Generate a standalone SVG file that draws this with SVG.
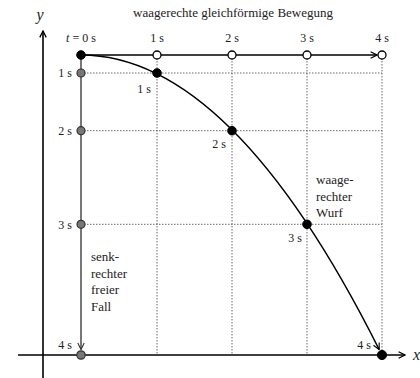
<svg xmlns="http://www.w3.org/2000/svg" width="420" height="378" viewBox="0 0 420 378">
<style>
text{font-family:"Liberation Serif","DejaVu Serif",serif;font-size:13px;fill:#222}
.lbl{font-size:12px}
.grid{stroke:#444;stroke-width:0.8;stroke-dasharray:1.5,1.5;fill:none}
.axis{stroke:#000;stroke-width:1.6;fill:none}
.blk{stroke:#000;stroke-width:1.4;fill:none}
.gry{stroke:#555;stroke-width:1.6;fill:none}
.pb{fill:#000;stroke:#000;stroke-width:1}
.pw{fill:#fff;stroke:#000;stroke-width:1.3}
.pg{fill:#777;stroke:#333;stroke-width:1.2}
</style>
<defs>
<marker id="ah" viewBox="0 0 10 10" refX="9" refY="5" markerWidth="8" markerHeight="8" markerUnits="userSpaceOnUse" orient="auto">
<path d="M1,1 L9,5 L1,9" fill="none" stroke="#000" stroke-width="1.6"/>
</marker>
<marker id="ahs" viewBox="0 0 10 10" refX="9" refY="5" markerWidth="8" markerHeight="8" markerUnits="userSpaceOnUse" orient="auto">
<path d="M1,1 L9,5 L1,9" fill="none" stroke="#000" stroke-width="1.4"/>
</marker>
<marker id="ahg" viewBox="0 0 10 10" refX="9" refY="5" markerWidth="8" markerHeight="8" markerUnits="userSpaceOnUse" orient="auto">
<path d="M1,1 L9,5 L1,9" fill="none" stroke="#333" stroke-width="1.4"/>
</marker>
</defs>
<g id="grid">
<path class="grid" d="M81,73 H382 M81,130.7 H382 M81,224.3 H382 M157,55 V355 M232,55 V355 M307,55 V355 M382,55 V355"/>
</g>
<g id="axes">
<path class="axis" d="M43,383 V31" marker-end="url(#ah)"/>
<path class="axis" d="M18,355 H405" marker-end="url(#ah)"/>
<text x="40" y="20" style="font-style:italic;font-size:16px" text-anchor="middle">y</text>
<text x="413" y="360" style="font-style:italic;font-size:16px">x</text>
</g>
<g id="connectors">
<path class="blk" d="M81,55 H377" marker-end="url(#ahs)"/>
<path class="gry" d="M81,55 V349.5" marker-end="url(#ahg)"/>
<path class="blk" d="M81,55 Q231.5,55 379.2,349.6" marker-end="url(#ahs)"/>
</g>
<g id="horizontal-points">
<circle class="pw" cx="157" cy="55" r="4"/>
<circle class="pw" cx="232" cy="55" r="4"/>
<circle class="pw" cx="307" cy="55" r="4"/>
<circle class="pw" cx="382" cy="55" r="4"/>
</g>
<g id="vertical-points">
<circle class="pg" cx="81" cy="73" r="4"/>
<circle class="pg" cx="81" cy="130.7" r="4"/>
<circle class="pg" cx="81" cy="224.3" r="4"/>
<circle class="pg" cx="81" cy="355" r="4.2"/>
</g>
<g id="throw-points">
<circle class="pb" cx="81" cy="55" r="4.3"/>
<circle class="pb" cx="157" cy="73" r="4.3"/>
<circle class="pb" cx="232" cy="130.7" r="4.3"/>
<circle class="pb" cx="307" cy="224.3" r="4.3"/>
<circle class="pb" cx="382" cy="355" r="4.6"/>
</g>
<g id="labels">
<text x="233" y="17" text-anchor="middle">waagerechte gleichförmige Bewegung</text>
<text x="81" y="42" text-anchor="middle" class="lbl"><tspan font-style="italic">t</tspan> = 0 s</text>
<text x="157" y="42" text-anchor="middle" class="lbl">1 s</text>
<text x="232" y="42" text-anchor="middle" class="lbl">2 s</text>
<text x="307" y="42" text-anchor="middle" class="lbl">3 s</text>
<text x="382" y="42" text-anchor="middle" class="lbl">4 s</text>
<text x="72" y="77" text-anchor="end" class="lbl">1 s</text>
<text x="72" y="135" text-anchor="end" class="lbl">2 s</text>
<text x="72" y="228.5" text-anchor="end" class="lbl">3 s</text>
<text x="72" y="349" text-anchor="end" class="lbl">4 s</text>
<text x="151" y="93" text-anchor="end" class="lbl">1 s</text>
<text x="226" y="148" text-anchor="end" class="lbl">2 s</text>
<text x="302" y="242" text-anchor="end" class="lbl">3 s</text>
<text x="371" y="349" text-anchor="end" class="lbl">4 s</text>
<text x="316" y="184">waage-</text>
<text x="316" y="200.5">rechter</text>
<text x="316" y="217">Wurf</text>
<text x="91" y="261">senk-</text>
<text x="91" y="277.5">rechter</text>
<text x="91" y="294">freier</text>
<text x="91" y="310.5">Fall</text>
</g>
</svg>
